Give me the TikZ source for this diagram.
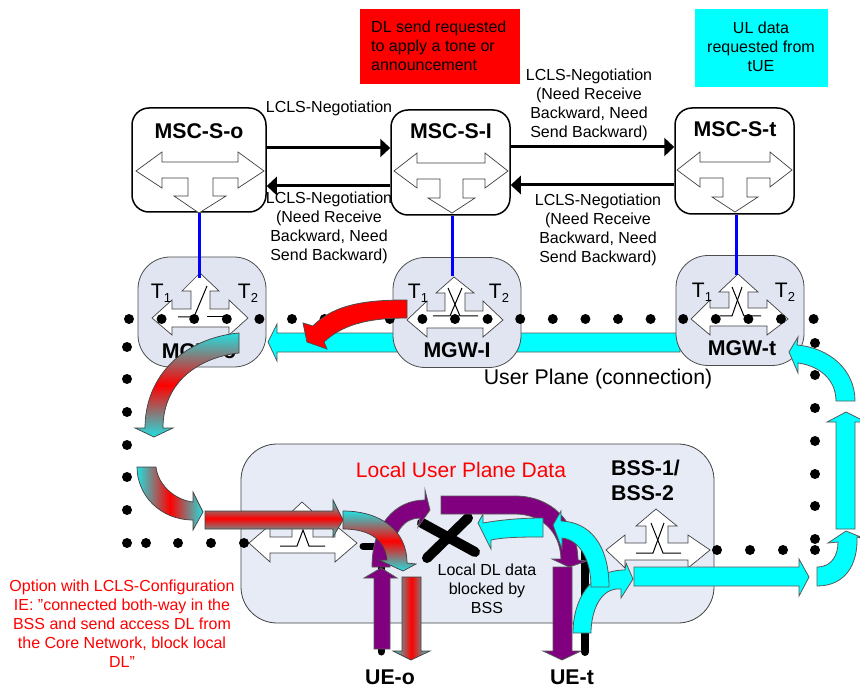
\documentclass[tikz,border=0pt]{standalone}
\usepackage{fontspec}
\setmainfont{Liberation Sans}
\usetikzlibrary{arrows.meta}
\definecolor{tealc}{HTML}{22E0E0}
\definecolor{purp}{HTML}{800080}
\definecolor{aqua}{HTML}{00FFFF}
\definecolor{pured}{HTML}{FF0000}
\definecolor{mgwfill}{HTML}{E0E5F1}
\definecolor{bssfill}{HTML}{E6EBF6}
\newcommand{\fs}[2]{\fontsize{#1}{#2}\selectfont}
\newcommand{\Tlab}[1]{T\raisebox{-4pt}{\fs{13}{13}#1}}
\tikzset{
  mscbox/.style={draw=black,line width=1.5pt,fill=white,rounded corners=17pt,inner sep=0pt},
  mgwbox/.style={draw=black!70,line width=0.8pt,fill=mgwfill,rounded corners=32pt,inner sep=0pt,minimum width=128pt,minimum height=110pt},
  bssbox/.style={draw=black!75,line width=0.8pt,fill=bssfill,rounded corners=36pt,inner sep=0pt},
  whitearrow/.style={draw=black!75,line width=0.7pt,fill=white},
  swline/.style={draw=black,line width=1pt},
  conn/.style={draw=black,line width=3pt,-{Triangle[length=10pt,width=18pt]}},
  ctrl/.style={draw=blue,line width=3pt},
  label/.style={font=\fs{16}{19},align=center,inner sep=0pt},
  redlabel/.style={label,text=pured},
  title/.style={font=\fs{21.3}{25}\bfseries,inner sep=0pt},
  tlab/.style={font=\fs{21}{21},inner sep=0pt},
  cyanarrow/.style={draw=black!65,line width=0.8pt,fill=aqua},
  purparrow/.style={draw=black!65,line width=0.8pt,fill=purp},
  redarrow/.style={draw=black!70,line width=0.8pt,fill=pured},
  gradV/.style={draw=black!75,line width=0.7pt,top color=tealc,bottom color=tealc,middle color=pured},
  gradH/.style={draw=black!75,line width=0.7pt,left color=tealc,right color=tealc,middle color=pured},
  dot/.style={fill=black},
  blockline/.style={draw=black,line width=7pt,line cap=round},
  crossline/.style={draw=black,line width=10pt,line cap=round},
}
\begin{document}
\begin{tikzpicture}[x=1pt,y=-1pt]
\useasboundingbox (0,0) rectangle (860,687);

% note boxes
\node[fill=pured,minimum width=160pt,minimum height=75pt,inner sep=0pt] (noteR) at (440,46.5) {};
\node[fill=aqua,minimum width=133pt,minimum height=78pt,inner sep=0pt] (noteC) at (761.5,48) {};
\node[label,align=left,anchor=west] (noteRt) at (371,45.5) {DL send requested\\to apply a tone or\\announcement};
\node[label] (noteCt) at (761,47) {UL data\\requested from\\tUE};

% MSC boxes
\node[mscbox,minimum width=134pt,minimum height=104pt] (mso) at (199,160) {};
\node[mscbox,minimum width=119pt,minimum height=105pt] (msi) at (450.5,162.5) {};
\node[mscbox,minimum width=119pt,minimum height=106pt] (mst) at (734.5,161) {};
\node[title] (msoL) at (199,131) {MSC-S-o};
\node[title] (msiL) at (451,131) {MSC-S-I};
\node[title] (mstL) at (735,129) {MSC-S-t};

\draw[whitearrow] (136,171)--(162,152)--(162,162)--(238,162)--(238,152)--(264,171)--(238,188)--(238,178)--(213,178)--(213,196)--(226,196)--(199,213)--(174,196)--(188,196)--(188,178)--(162,178)--(162,188)--cycle;
\draw[whitearrow] (394,171)--(417,153)--(417,163)--(485,163)--(485,153)--(508,171)--(485,188)--(485,179)--(463,179)--(463,198)--(475,198)--(452,213)--(428,198)--(440,198)--(440,179)--(417,179)--(417,188)--cycle;
\draw[whitearrow] (677,170)--(700,152)--(700,162)--(770,162)--(770,152)--(792,170)--(770,187)--(770,178)--(747,178)--(747,197)--(758,197)--(735,212)--(712,197)--(723,197)--(723,178)--(700,178)--(700,187)--cycle;

% signalling connectors
\draw[conn] ([yshift=12pt]mso.east) -- ([yshift=14.5pt]msi.west);
\draw[conn] ([yshift=-23.5pt]msi.west) -- ([yshift=-26pt]mso.east);
\draw[conn] ([yshift=15.5pt]msi.east) -- ([yshift=14pt]mst.west);
\draw[conn] ([yshift=-24pt]mst.west) -- ([yshift=-22.5pt]msi.east);
\node[label] (neg1) at (329,108) {LCLS-Negotiation};
\node[label] (neg2) at (329,228) {LCLS-Negotiation\\(Need Receive\\Backward, Need\\Send Backward)};
\node[label] (neg3) at (589,104.5) {LCLS-Negotiation\\(Need Receive\\Backward, Need\\Send Backward)};
\node[label] (neg4) at (598,230) {LCLS-Negotiation\\(Need Receive\\Backward, Need\\Send Backward)};

% user plane arrow under gateways
\draw[cyanarrow] (680,333)--(277,333)--(277,324)--(268,342)--(277,361)--(277,352)--(680,352)--cycle;

% BSS
\node[bssbox,minimum width=473pt,minimum height=179pt] (bss) at (477.5,533.5) {};

% MGW boxes
\node[mgwbox] (mgo) at (202,312) {};
\node[mgwbox] (mgi) at (457,312.5) {};
\node[mgwbox] (mgt) at (740,310.5) {};
\node[title] (mgoL) at (199,351) {MGW-o};
\node[title] (mgiL) at (457,350) {MGW-I};
\node[title] (mgtL) at (742,348) {MGW-t};

\draw[whitearrow] (152,318)--(172,300)--(172,309)--(191,309)--(191,291)--(182,291)--(200,273)--(219,291)--(210,291)--(210,309)--(229,309)--(229,300)--(248,318)--(229,335)--(229,327)--(172,327)--(172,335)--cycle;
\draw[whitearrow] (407,320)--(427,301)--(427,311)--(445,311)--(445,293)--(436,293)--(454,277)--(474,293)--(465,293)--(465,311)--(483,311)--(483,301)--(503,320)--(483,337)--(483,328)--(427,328)--(427,337)--cycle;
\draw[whitearrow] (691,319)--(710,300)--(710,308)--(729,308)--(729,292)--(719,292)--(738,274)--(758,292)--(748,292)--(748,308)--(767,308)--(767,300)--(788,319)--(767,335)--(767,326)--(710,326)--(710,335)--cycle;
\draw[whitearrow] (249,543)--(270,525)--(270,537)--(292,537)--(292,520)--(283,520)--(302,502)--(322,520)--(313,520)--(313,537)--(335,537)--(335,525)--(357,543)--(335,562)--(335,553)--(270,553)--(270,562)--cycle;
\draw[whitearrow] (606,550)--(625,535)--(625,543)--(646,543)--(646,526)--(636,526)--(656,509)--(677,526)--(668,526)--(668,543)--(688,543)--(688,535)--(710,550)--(688,568)--(688,560)--(625,560)--(625,568)--cycle;

% switch symbols
\draw[swline] (178,317)--(194,317)--(207,286);
\draw[swline] (207,317)--(223,317);
\draw[swline] (448,288)--(460,316)--(478,316);
\draw[swline] (462,288)--(450,316)--(433,316);
\draw[swline] (732,287)--(744,316)--(761,316);
\draw[swline] (742,287)--(732,316)--(720,316);
\draw[swline] (280,546)--(297,546)--(303,530)--(309,546)--(325,546);
\draw[swline] (651,523)--(663,553)--(681,553);
\draw[swline] (664,523)--(653,553)--(636,553);

% terminations
\node[tlab] (t1o) at (161,293) {\Tlab{1}};
\node[tlab] (t2o) at (248,293) {\Tlab{2}};
\node[tlab] (t1i) at (418,293) {\Tlab{1}};
\node[tlab] (t2i) at (499,293) {\Tlab{2}};
\node[tlab] (t1t) at (702,292) {\Tlab{1}};
\node[tlab] (t2t) at (785,292) {\Tlab{2}};

% dotted path
\foreach \k in {0,...,21} \fill[dot] (129+32.6*\k,319) circle (5);
\foreach \yy in {347,379,412,445,477,510,543} \fill[dot] (127,\yy) circle (5);
\foreach \xx in {146,178,211,244} \fill[dot] (\xx,543) circle (5);
\foreach \xx in {717,750,783,815} \fill[dot] (\xx,550) circle (5);
\foreach \yy in {343,375,408,441,474,506,539} \fill[dot] (815,\yy) circle (5);

% control links
\coordinate (tipO) at (199,278);
\coordinate (tipI) at (452,276);
\coordinate (tipT) at (736,275);
\draw[ctrl] (mso.south) -- (tipO);
\draw[ctrl] ([xshift=1.5pt]msi.south) -- (tipI);
\draw[ctrl] ([xshift=1.5pt]mst.south) -- (tipT);

\node[font=\fs{21.3}{25},inner sep=0pt] (upl) at (598,379) {User Plane (connection)};
\node[font=\fs{21}{25},text=pured,inner sep=0pt] (lupd) at (461,470) {Local User Plane Data};
\node[title,align=left,anchor=west] (bssL) at (611,480.5) {BSS-1/\\BSS-2};
\node[label] (blk) at (487,589) {Local DL data\\blocked by\\BSS};
\node[redlabel] (opt) at (122,624) {Option with LCLS-Configuration\\IE: "connected both-way in the\\BSS and send access DL from\\the Core Network, block local\\DL"};
\node[title] (ueo) at (390,677) {UE-o};
\node[title] (uet) at (572,677) {UE-t};

% black stubs and cross
\coordinate (stubA) at (363,546);
\coordinate (stubB) at (381,546);
\coordinate (stubC) at (381,652);
\coordinate (stubD) at (585,550);
\coordinate (stubE) at (585,652);
\draw[blockline] (stubA)--(stubB)--(stubC);
\draw[blockline,line width=8pt] (stubD)--(stubE);
\draw[crossline] (422,523)--(475,552);
\draw[crossline] (468,518)--(427,558);

% local purple arrows
\draw[purparrow] (372,567) .. controls (372,525) and (395,500) .. (425,500)--(425,490)--(430,510)--(418,527)--(420,518) .. controls (405,518) and (392,530) .. (390,567)--cycle;
\draw[purparrow] (374,649)--(374,578)--(364,578)--(381,568)--(397,578)--(390,578)--(390,649)--cycle;
\draw[purparrow] (441,496)--(515,496) .. controls (550,496) and (577,520) .. (578,560)--(587,561)--(569,567)--(552,559)--(561,559) .. controls (560,530) and (540,514) .. (515,514)--(441,514)--cycle;
\draw[purparrow] (553,567)--(572,567)--(572,651)--(581,651)--(562,660)--(543,651)--(553,651)--cycle;

% local cyan arrows
\draw[cyanarrow] (543,518) .. controls (520,518) and (500,520) .. (483,523)--(483,514)--(478,523)--(491,549)--(491,540) .. controls (505,537) and (525,537) .. (543,537)--cycle;
\draw[cyanarrow] (573,633) .. controls (573,600) and (590,570) .. (625,570)--(626,563)--(633,579)--(621,598)--(621,589) .. controls (600,587) and (591,612) .. (591,633)--cycle;
\draw[cyanarrow] (609,587) .. controls (609,545) and (590,522) .. (561,521)--(561,511)--(553,525)--(562,549)--(562,538) .. controls (580,540) and (591,560) .. (591,587)--cycle;
\draw[cyanarrow] (634,567)--(799,567)--(799,559)--(809,577)--(799,596)--(799,586)--(634,586)--cycle;
\draw[cyanarrow] (817,567) .. controls (832,567) and (838,555) .. (838,542)--(828,543)--(846,531)--(868,540)--(857,537) .. controls (858,565) and (845,586) .. (817,586)--cycle;
\draw[cyanarrow] (836,529)--(836,422)--(827,422)--(846,412)--(866,422)--(855,422)--(855,529)--cycle;
\draw[cyanarrow] (855,401) .. controls (855,370) and (830,348) .. (797,345)--(798,337)--(789,352)--(798,373)--(798,363) .. controls (820,366) and (836,380) .. (836,401)--cycle;

% downlink red and graded arrows
\draw[redarrow] (407,300) .. controls (370,300) and (335,303) .. (313,326)--(303,323)--(307,342)--(327,349)--(324,342) .. controls (345,322) and (375,318) .. (407,318)--cycle;
\draw[gradV] (239,333) .. controls (185,338) and (145,375) .. (145,428)--(135,428)--(154,437)--(173,428)--(163,428) .. controls (163,385) and (195,358) .. (239,353)--cycle;
\draw[gradH] (137,467)--(156,467) .. controls (158,485) and (175,500) .. (193,502)--(193,492)--(203,512)--(193,530)--(193,520) .. controls (160,520) and (137,495) .. (137,467)--cycle;
\draw[gradV] (205,511)--(333,511)--(333,500)--(343,520)--(333,537)--(333,529)--(205,529)--cycle;
\draw[gradV] (343,511) .. controls (380,511) and (407,530) .. (407,563)--(416,564)--(403,571)--(379,560)--(387,560) .. controls (385,540) and (370,529) .. (343,529)--cycle;
\draw[gradH] (402,577)--(421,577)--(421,651)--(430,651)--(411,660)--(393,651)--(402,651)--cycle;
\end{tikzpicture}
\end{document}
